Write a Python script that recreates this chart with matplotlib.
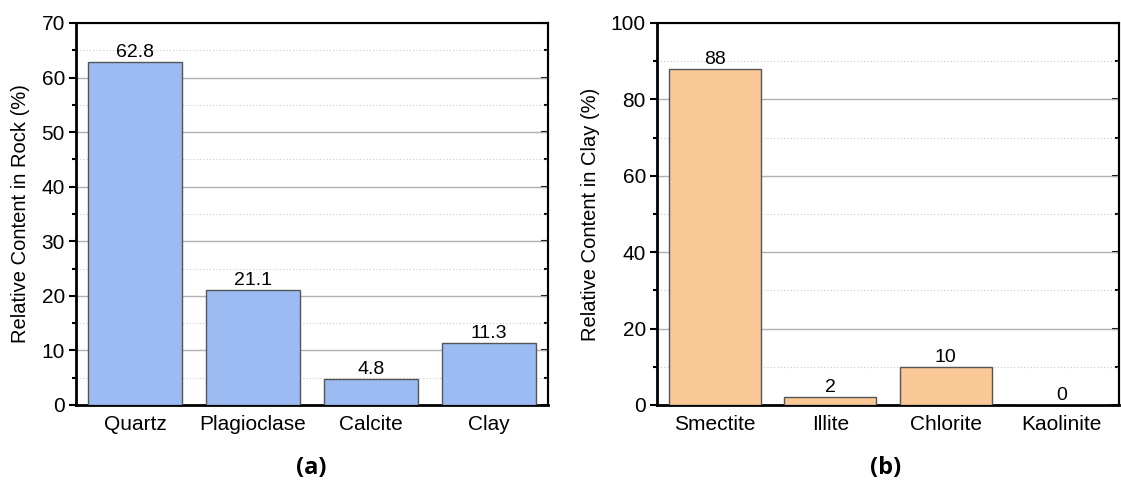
import numpy as np
import matplotlib
matplotlib.use("Agg")
import matplotlib.pyplot as plt
from matplotlib.ticker import MultipleLocator

plt.rcParams['font.family'] = ['Liberation Sans', 'DejaVu Sans']

# mineral composition of the whole rock
rock_minerals = ["Quartz", "Plagioclase", "Calcite", "Clay"]
rock_content = [62.8, 21.1, 4.8, 11.3]

# clay mineral composition
clay_minerals = ["Smectite", "Illite", "Chlorite", "Kaolinite"]
clay_content = [88, 2, 10, 0]

fig = plt.figure(figsize=(11.21, 5.0), dpi=100)
ax1 = fig.add_axes([76 / 1121, 95 / 500, 472 / 1121, 382 / 500])
ax2 = fig.add_axes([657 / 1121, 95 / 500, 462 / 1121, 382 / 500])


def draw_panel(ax, names, values, color, ymax, major, ylabel, fmt):
    x = np.arange(len(names))
    bars = ax.bar(x, values, width=0.8, color=color, edgecolor="#555555",
                  linewidth=1.0, zorder=3)
    for b, v in zip(bars, values):
        ax.text(b.get_x() + b.get_width() / 2, v + ymax * 0.003, fmt.format(v),
                ha="center", va="bottom", fontsize=14, zorder=4)
    ax.set_xlim(-0.5, len(names) - 0.5)
    ax.set_ylim(0, ymax)
    ax.set_xticks(x)
    ax.set_xticklabels(names, fontsize=15)
    ax.yaxis.set_major_locator(MultipleLocator(major))
    ax.yaxis.set_minor_locator(MultipleLocator(major / 2))
    ax.tick_params(axis="x", length=0, pad=7)
    ax.tick_params(axis="y", which="major", direction="out", length=5,
                   width=1.5, labelsize=15, pad=3)
    ax.tick_params(axis="y", which="minor", direction="out", length=3, width=1.5)
    ax.grid(axis="y", which="major", color="#b0b0b0", linewidth=1.0, zorder=0)
    ax.grid(axis="y", which="minor", color="#c8c8c8", linewidth=0.8,
            linestyle=(0, (1, 2)), zorder=0)
    ax.set_axisbelow(True)
    for side in ["left", "bottom"]:
        ax.spines[side].set_linewidth(2.0)
    for side in ["top", "right"]:
        ax.spines[side].set_linewidth(1.5)
    ax.set_ylabel(ylabel, fontsize=14.5, labelpad=8)

    # mirrored ticks on the right spine, pointing inward
    sec = ax.secondary_yaxis("right")
    sec.yaxis.set_major_locator(MultipleLocator(major))
    sec.yaxis.set_minor_locator(MultipleLocator(major / 2))
    sec.tick_params(which="major", direction="in", length=5, width=1.5,
                    labelright=False)
    sec.tick_params(which="minor", direction="in", length=3, width=1.5)
    sec.spines["right"].set_linewidth(1.5)


draw_panel(ax1, rock_minerals, rock_content, "#9bbbf2", 70, 10,
           "Relative Content in Rock (%)", "{:.1f}")
draw_panel(ax2, clay_minerals, clay_content, "#fac896", 100, 20,
           "Relative Content in Clay (%)", "{:d}")

fig.text(311 / 1121, 1 - 468 / 500, "(a)", ha="center", va="center",
         fontsize=17, fontweight="bold", family=["Open Sans", "DejaVu Sans"])
fig.text(886 / 1121, 1 - 468 / 500, "(b)", ha="center", va="center",
         fontsize=17, fontweight="bold", family=["Open Sans", "DejaVu Sans"])

fig.savefig("out.png", dpi=100)
